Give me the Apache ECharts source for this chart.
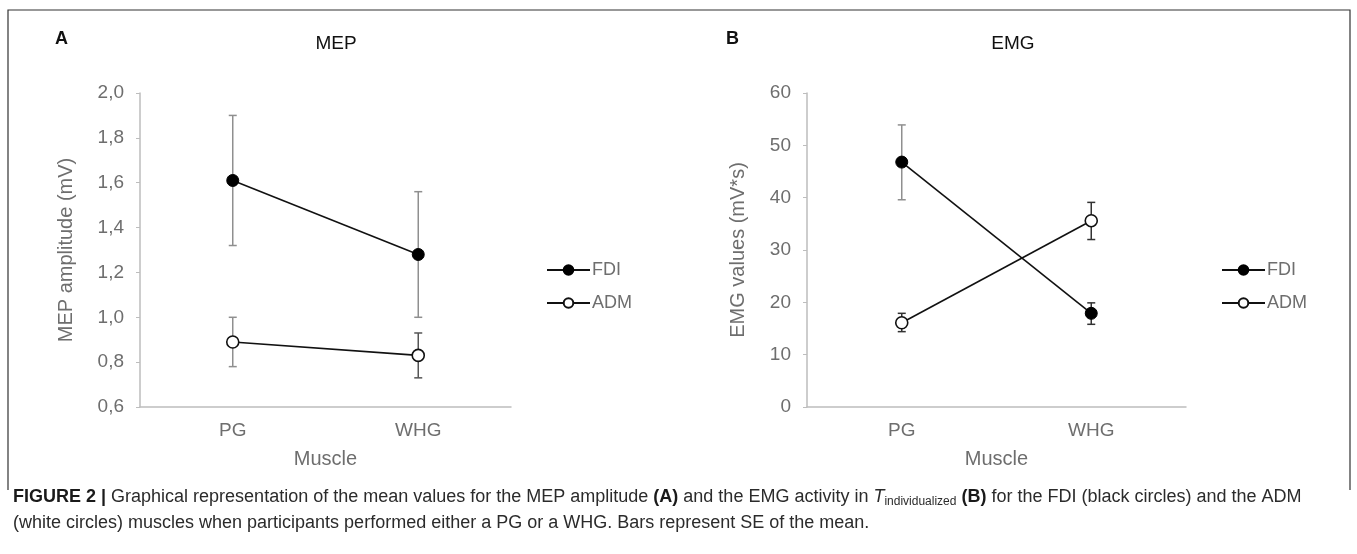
<!DOCTYPE html>
<html>
<head>
<meta charset="utf-8">
<script src="https://cdn.jsdelivr.net/npm/echarts@6/dist/echarts.min.js"></script>
<style>
  html, body { margin: 0; padding: 0; background: #fff; }
  #main { width: 1357px; height: 554px; }
</style>
</head>
<body>
<div id="main"></div>
<script>
// data
const muscles = ['PG', 'WHG']

// panel A, MEP amplitude (mV)
const mepFdi = [1.61, 1.28]
const mepFdiLow = [1.32, 1.00]
const mepFdiHigh = [1.90, 1.56]
const mepAdm = [0.89, 0.83]
const mepAdmLow = [0.78, 0.73]
const mepAdmHigh = [1.00, 0.93]
const mepTicks = { min: 0.6, max: 2.0, step: 0.2 }

// panel B, EMG values (mV*s)
const emgFdi = [46.8, 17.9]
const emgFdiLow = [39.6, 15.8]
const emgFdiHigh = [53.9, 19.9]
const emgAdm = [16.1, 35.6]
const emgAdmLow = [14.4, 32.0]
const emgAdmHigh = [17.9, 39.1]
const emgTicks = { min: 0, max: 60, step: 10 }

const FONT = 'Liberation Sans, Arial, sans-serif'
const GRAY_TEXT = '#6e6e6e'
const AXIS_GRAY = '#bdbdbd'

const chart = echarts.init(document.getElementById('main'))

const errRows = (low, high) => low.map((l, i) => [i, l, high[i]])

// draws one vertical bar with caps, colours picked per category
const errorBar = (name, xi, low, high, colors) => ({
  type: 'custom',
  name: name + ' SE',
  xAxisIndex: xi,
  yAxisIndex: xi,
  z: 1,
  silent: true,
  data: errRows(low, high),
  renderItem: (params, api) => {
    const top = api.coord([api.value(0), api.value(2)])
    const bot = api.coord([api.value(0), api.value(1)])
    const half = 4
    const style = { stroke: colors[api.value(0)], lineWidth: 1.5 }
    return {
      type: 'group',
      children: [
        { type: 'line', shape: { x1: top[0], y1: top[1], x2: bot[0], y2: bot[1] }, style },
        { type: 'line', shape: { x1: top[0] - half, y1: top[1], x2: top[0] + half, y2: top[1] }, style },
        { type: 'line', shape: { x1: bot[0] - half, y1: bot[1], x2: bot[0] + half, y2: bot[1] }, style }
      ]
    }
  }
})

const lineSeries = (name, xi, values, filled) => ({
  type: 'line',
  name: name,
  xAxisIndex: xi,
  yAxisIndex: xi,
  z: 3,
  data: values,
  symbol: 'circle',
  symbolSize: 12,
  showAllSymbol: true,
  lineStyle: { color: '#111', width: 1.6 },
  itemStyle: filled
    ? { color: '#000', borderColor: '#000', borderWidth: 1 }
    : { color: '#fff', borderColor: '#111', borderWidth: 1.6 },
  emphasis: { disabled: true }
})

const catAxis = (gi) => ({
  type: 'category',
  gridIndex: gi,
  data: muscles,
  name: 'Muscle',
  nameLocation: 'middle',
  nameGap: 42,
  nameTextStyle: { color: GRAY_TEXT, fontSize: 20, fontFamily: FONT },
  axisLine: { lineStyle: { color: AXIS_GRAY, width: 1.5 } },
  axisTick: { show: false },
  axisLabel: { color: GRAY_TEXT, fontSize: 19, fontFamily: FONT, margin: 14 }
})

const valAxis = (gi, ticks, name, gap, fmt) => ({
  type: 'value',
  gridIndex: gi,
  min: ticks.min,
  max: ticks.max,
  interval: ticks.step,
  name: name,
  nameLocation: 'middle',
  nameGap: gap,
  nameRotate: 90,
  nameTextStyle: { color: GRAY_TEXT, fontSize: 20, fontFamily: FONT },
  splitLine: { show: false },
  axisLine: { show: true, lineStyle: { color: AXIS_GRAY, width: 1.5 } },
  axisTick: { show: true, length: 4, lineStyle: { color: AXIS_GRAY } },
  axisLabel: { color: GRAY_TEXT, fontSize: 19, fontFamily: FONT, margin: 16, formatter: fmt }
})

const legendAt = (left) => ({
  orient: 'vertical',
  left: left,
  top: 256,
  itemWidth: 43,
  itemHeight: 12,
  itemGap: 15,
  selectedMode: false,
  textStyle: { color: GRAY_TEXT, fontSize: 18, fontFamily: FONT, padding: [0, 0, 0, -3] },
  data: ['FDI', 'ADM']
})

const caption =
  '{b|FIGURE 2 |} Graphical representation of the mean values for the MEP amplitude {b|(A)} and the EMG activity in {i|T}{sub|individualized} {b|(B)} for the FDI (black circles) and the ADM\n' +
  '(white circles) muscles when participants performed either a PG or a WHG. Bars represent SE of the mean.'

const option = {
  backgroundColor: '#fff',
  animation: false,
  title: [
    { text: 'MEP', left: 331, top: 29, textAlign: 'center',
      textStyle: { color: '#111', fontSize: 19, fontWeight: 'normal', fontFamily: FONT } },
    { text: 'EMG', left: 1008, top: 29, textAlign: 'center',
      textStyle: { color: '#111', fontSize: 19, fontWeight: 'normal', fontFamily: FONT } }
  ],
  grid: [
    { left: 140, top: 93, width: 371, height: 314 },
    { left: 807, top: 93, width: 379, height: 314 }
  ],
  xAxis: [catAxis(0), catAxis(1)],
  yAxis: [
    valAxis(0, mepTicks, 'MEP amplitude (mV)', 64, v => v.toFixed(1).replace('.', ',')),
    valAxis(1, emgTicks, 'EMG values (mV*s)', 59, v => String(v))
  ],
  legend: [legendAt(541), legendAt(1216)],
  series: [
    errorBar('FDI', 0, mepFdiLow, mepFdiHigh, ['#8f8f8f', '#8f8f8f']),
    errorBar('ADM', 0, mepAdmLow, mepAdmHigh, ['#8f8f8f', '#555']),
    errorBar('FDI', 1, emgFdiLow, emgFdiHigh, ['#8f8f8f', '#333']),
    errorBar('ADM', 1, emgAdmLow, emgAdmHigh, ['#333', '#333']),
    lineSeries('FDI', 0, mepFdi, true),
    lineSeries('ADM', 0, mepAdm, false),
    lineSeries('FDI', 1, emgFdi, true),
    lineSeries('ADM', 1, emgAdm, false)
  ],
  graphic: [
    { type: 'polyline', silent: true,
      shape: { points: [[8, 490], [8, 10], [1350, 10], [1350, 490]] },
      style: { stroke: '#333', lineWidth: 1.2, fill: null } },
    { type: 'text', left: 55, top: 30, silent: true,
      style: { text: 'A', fill: '#111', font: 'bold 18px ' + FONT } },
    { type: 'text', left: 726, top: 30, silent: true,
      style: { text: 'B', fill: '#111', font: 'bold 18px ' + FONT } },
    { type: 'text', left: 13, top: 484, silent: true,
      style: {
        text: caption,
        fill: '#2b2b2b',
        fontFamily: FONT,
        fontSize: 18,
        lineHeight: 26,
        rich: {
          b: { fontWeight: 'bold', fill: '#1a1a1a', fontSize: 18, fontFamily: FONT, lineHeight: 26 },
          i: { fontStyle: 'italic', fontSize: 18, fontFamily: FONT, lineHeight: 26 },
          sub: { fontSize: 12, fontFamily: FONT, lineHeight: 26, verticalAlign: 'bottom', padding: [0, 0, 2, 0] }
        }
      } }
  ]
}

chart.setOption(option)
</script>
</body>
</html>
